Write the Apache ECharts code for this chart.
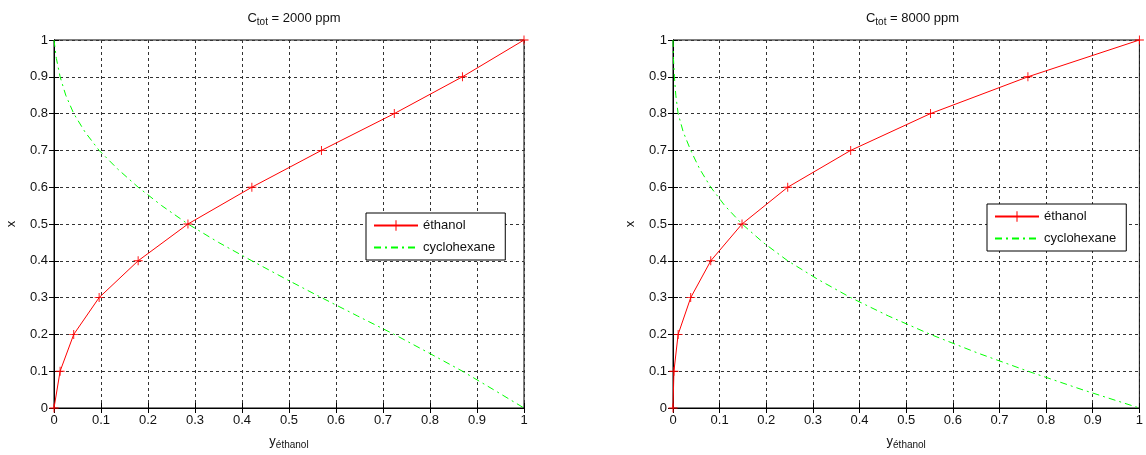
<!DOCTYPE html>
<html><head><meta charset="utf-8">
<script src="https://cdn.jsdelivr.net/npm/echarts@6/dist/echarts.min.js"></script>
<style>html,body{margin:0;padding:0;background:#fff}#c{width:1146px;height:455px}</style>
</head><body><div id="c"></div>
<script>
// liquid mole fraction of ethanol (vertical axis) for the éthanol curve
const xLevels = [0, 0.1, 0.2, 0.3, 0.4, 0.5, 0.6, 0.7, 0.8, 0.9, 1];
// vapour mole fraction y_éthanol
const yEthanol2000 = [0, 0.013, 0.042, 0.096, 0.179, 0.285, 0.421, 0.569, 0.724, 0.869, 1];
const yEthanol8000 = [0, 0.002, 0.011, 0.038, 0.081, 0.148, 0.246, 0.381, 0.552, 0.761, 1];
// cyclohexane curve (vertical axis levels) and the y_éthanol read at each level
const cycloLevels = [1, 0.95, 0.9, 0.85, 0.8, 0.75, 0.7, 0.65, 0.6, 0.55, 0.5, 0.45, 0.4, 0.35, 0.3, 0.25, 0.2, 0.15, 0.1, 0.05, 0];
const cycloY2000 = [0, 0.005, 0.013, 0.025, 0.042, 0.066, 0.096, 0.135, 0.179, 0.229, 0.285, 0.35, 0.421, 0.494, 0.569, 0.646, 0.724, 0.797, 0.869, 0.935, 1];
const cycloY8000 = [0, 0.001, 0.003, 0.006, 0.011, 0.022, 0.038, 0.057, 0.081, 0.111, 0.148, 0.193, 0.246, 0.31, 0.381, 0.462, 0.552, 0.652, 0.761, 0.877, 1];
const titles = ['2000 ppm', '8000 ppm'];
const seriesNames = ['éthanol', 'cyclohexane'];

const FONT = "'Liberation Sans', Arial, sans-serif";
const TXT = '#111';
const grids = [
  {left: 54, top: 40, width: 470, height: 370},
  {left: 673, top: 40, width: 469, height: 370}
];
const legendPos = [{left: 366, top: 213}, {left: 987, top: 204}];
const plus = 'path://M0,4.5H10V5.5H0ZM4.5,0H5.5V10H4.5Z';

const pairs = (xs, ys) => xs.map((v, i) => [v, ys[i]]);
const ethData = [yEthanol2000, yEthanol8000];
const cycData = [cycloY2000, cycloY8000];

const xAxis = [], yAxis = [], series = [], title = [], legend = [];
grids.forEach((g, i) => {
  const common = {
    gridIndex: i, type: 'value', min: 0, max: 1, interval: 0.1,
    axisLine: {show: true, lineStyle: {color: '#000', width: 1}},
    axisTick: {show: true, inside: true, length: 5, lineStyle: {color: '#000'}},
  };
  xAxis.push(Object.assign({}, common, {
    position: 'bottom',
    axisLabel: {show: true, color: TXT, fontFamily: FONT, fontSize: 13, margin: 6},
    splitLine: {show: true, lineStyle: {color: '#333', type: [3, 3], width: 1}},
    name: '{a|y}{b|éthanol}', nameLocation: 'middle', nameGap: 24,
    nameTextStyle: {rich: {
      a: {fontFamily: FONT, fontSize: 13, color: TXT},
      b: {fontFamily: FONT, fontSize: 10, color: TXT, padding: [8, 0, 0, 0]}
    }}
  }));
  xAxis.push(Object.assign({}, common, {
    position: 'top', axisLabel: {show: false}, splitLine: {show: false}
  }));
  yAxis.push(Object.assign({}, common, {
    position: 'left',
    axisLabel: {show: true, color: TXT, fontFamily: FONT, fontSize: 13, margin: 6},
    splitLine: {show: true, lineStyle: {color: '#333', type: [3, 3], width: 1}},
    name: 'x', nameLocation: 'middle', nameGap: 36,
    nameTextStyle: {fontFamily: FONT, fontSize: 13, color: TXT}
  }));
  yAxis.push(Object.assign({}, common, {
    position: 'right', axisLabel: {show: false}, splitLine: {show: false}
  }));
  title.push({
    text: '{a|C}{b|tot}{a| = ' + titles[i] + '}',
    left: g.left + g.width / 2, textAlign: 'center', top: 4,
    textStyle: {fontWeight: 'normal', rich: {
      a: {fontFamily: FONT, fontSize: 13, fontWeight: 'normal', color: TXT},
      b: {fontFamily: FONT, fontSize: 10, fontWeight: 'normal', color: TXT, padding: [8, 0, 0, 0]}
    }}
  });
  series.push({
    name: seriesNames[0], type: 'line', xAxisIndex: 2 * i, yAxisIndex: 2 * i,
    data: pairs(ethData[i], xLevels), z: 4,
    symbol: plus, symbolSize: 9, showSymbol: true,
    itemStyle: {color: '#ff0000'},
    lineStyle: {color: '#ff0000', width: 1}, animation: false
  });
  series.push({
    name: seriesNames[1], type: 'line', xAxisIndex: 2 * i, yAxisIndex: 2 * i,
    data: pairs(cycData[i], cycloLevels), z: 3,
    symbol: 'none', showSymbol: false,
    itemStyle: {color: '#00ff00'},
    lineStyle: {color: '#00ff00', width: 1, type: [7, 4, 2, 4]}, animation: false
  });
  legend.push({
    data: [
      {name: seriesNames[0]},
      {name: seriesNames[1], itemStyle: {color: 'rgba(0,0,0,0)', borderWidth: 0, opacity: 0}}
    ],
    orient: 'vertical',
    left: legendPos[i].left, top: legendPos[i].top,
    backgroundColor: '#fff', borderColor: '#000', borderWidth: 1,
    padding: [6, 10, 6, 7], itemWidth: 44, itemHeight: 13, itemGap: 9,
    textStyle: {fontFamily: FONT, fontSize: 13, color: TXT},
    selectedMode: false
  });
});

const chart = echarts.init(document.getElementById('c'), null, {renderer: 'canvas'});
chart.setOption({
  animation: false,
  backgroundColor: '#fff',
  grid: grids.map(g => Object.assign({show: true, borderColor: '#000', borderWidth: 1, backgroundColor: '#fff'}, g)),
  title, legend, xAxis, yAxis, series
});
</script></body></html>
